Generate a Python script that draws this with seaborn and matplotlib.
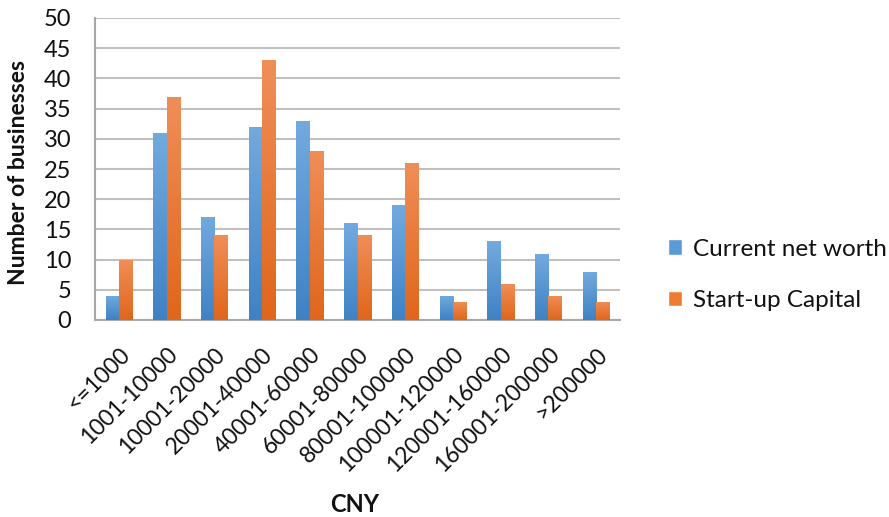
import matplotlib
matplotlib.use("Agg")
import matplotlib.pyplot as plt
import seaborn as sns
import pandas as pd
import numpy as np
from matplotlib.colors import LinearSegmentedColormap

categories = ["<=1000", "1001-10000", "10001-20000", "20001-40000", "40001-60000",
              "60001-80000", "80001-100000", "100001-120000", "120001-160000",
              "160001-200000", ">200000"]
current_net_worth = [4, 31, 17, 32, 33, 16, 19, 4, 13, 11, 8]
startup_capital = [10, 37, 14, 43, 28, 14, 26, 3, 6, 4, 3]
series_names = ["Current net worth", "Start-up Capital"]
y_ticks = [0, 5, 10, 15, 20, 25, 30, 35, 40, 45, 50]

df = pd.DataFrame({
    "CNY": categories * 2,
    "value": current_net_worth + startup_capital,
    "series": [series_names[0]] * len(categories) + [series_names[1]] * len(categories),
})

sns.set_theme(style="white")
plt.rcParams["font.family"] = ["Lato", "DejaVu Sans"]

blue = "#5b9bd5"
orange = "#ed7d31"
txt = "#111111"

fig = plt.figure(figsize=(8.89, 5.17), dpi=100)
ax = fig.add_axes([95 / 889, 1 - 320 / 517, 525 / 889, 302 / 517])

sns.barplot(data=df, x="CNY", y="value", hue="series", order=categories,
            hue_order=series_names, palette=[blue, orange], width=0.56,
            saturation=1, ax=ax, legend=True, zorder=3)

# gradient fill on bars
grads = [
    LinearSegmentedColormap.from_list("b", ["#3f82c4", "#72aade"]),
    LinearSegmentedColormap.from_list("o", ["#e0661b", "#f08e58"]),
]
for i, cont in enumerate(ax.containers):
    cmap = grads[i]
    for p in cont.patches:
        x0, y0 = p.get_x(), p.get_y()
        w, h = p.get_width(), p.get_height()
        if h <= 0:
            continue
        grad = np.linspace(0, 1, 100).reshape(-1, 1)
        im = ax.imshow(grad, cmap=cmap, origin="lower", aspect="auto",
                       extent=[x0, x0 + w, y0, y0 + h], zorder=3.5)
        im.set_clip_path(p)
        p.set_edgecolor("none")

ax.set_xlim(-0.5, len(categories) - 0.5)
ax.set_ylim(0, 50)
ax.set_yticks(y_ticks)
ax.set_yticklabels([str(t) for t in y_ticks], fontsize=17, color=txt)
ax.yaxis.grid(True, color="#c0c0c0", linewidth=1.5, zorder=0)
ax.set_axisbelow(True)

ax.set_xticks(range(len(categories)))
ax.set_xticklabels(categories, rotation=45, ha="right", rotation_mode="anchor",
                   fontsize=16.5, color=txt)
ax.tick_params(axis="x", which="major", length=0, pad=17)
ax.set_xticks(np.arange(-0.5, len(categories), 1.0), minor=True)
ax.tick_params(axis="x", which="minor", length=6, width=1.2, color="#a8a8a8", direction="out")
ax.tick_params(axis="y", length=8, width=1.2, color="#a8a8a8", direction="out", pad=9)

for s in ["top", "right"]:
    ax.spines[s].set_visible(False)
for s in ["left", "bottom"]:
    ax.spines[s].set_color("#a8a8a8")
    ax.spines[s].set_linewidth(1.5)

ax.set_ylabel("Number of businesses", fontsize=16.5, fontweight="bold", color=txt)
ax.yaxis.set_label_coords(-66 / 525, 0.49)
ax.set_xlabel("")
fig.text(355 / 889, 1 - 505 / 517, "CNY", fontsize=17, fontweight="bold",
         ha="center", va="center", color=txt)

leg = ax.legend(loc="center left", bbox_to_anchor=(1.091, 0.15), frameon=False,
                fontsize=17.5, handlelength=0.6, handleheight=0.6, labelspacing=1.25,
                handletextpad=0.45, borderpad=0, borderaxespad=0)
for t in leg.get_texts():
    t.set_color(txt)

fig.savefig("out.png", dpi=100)
